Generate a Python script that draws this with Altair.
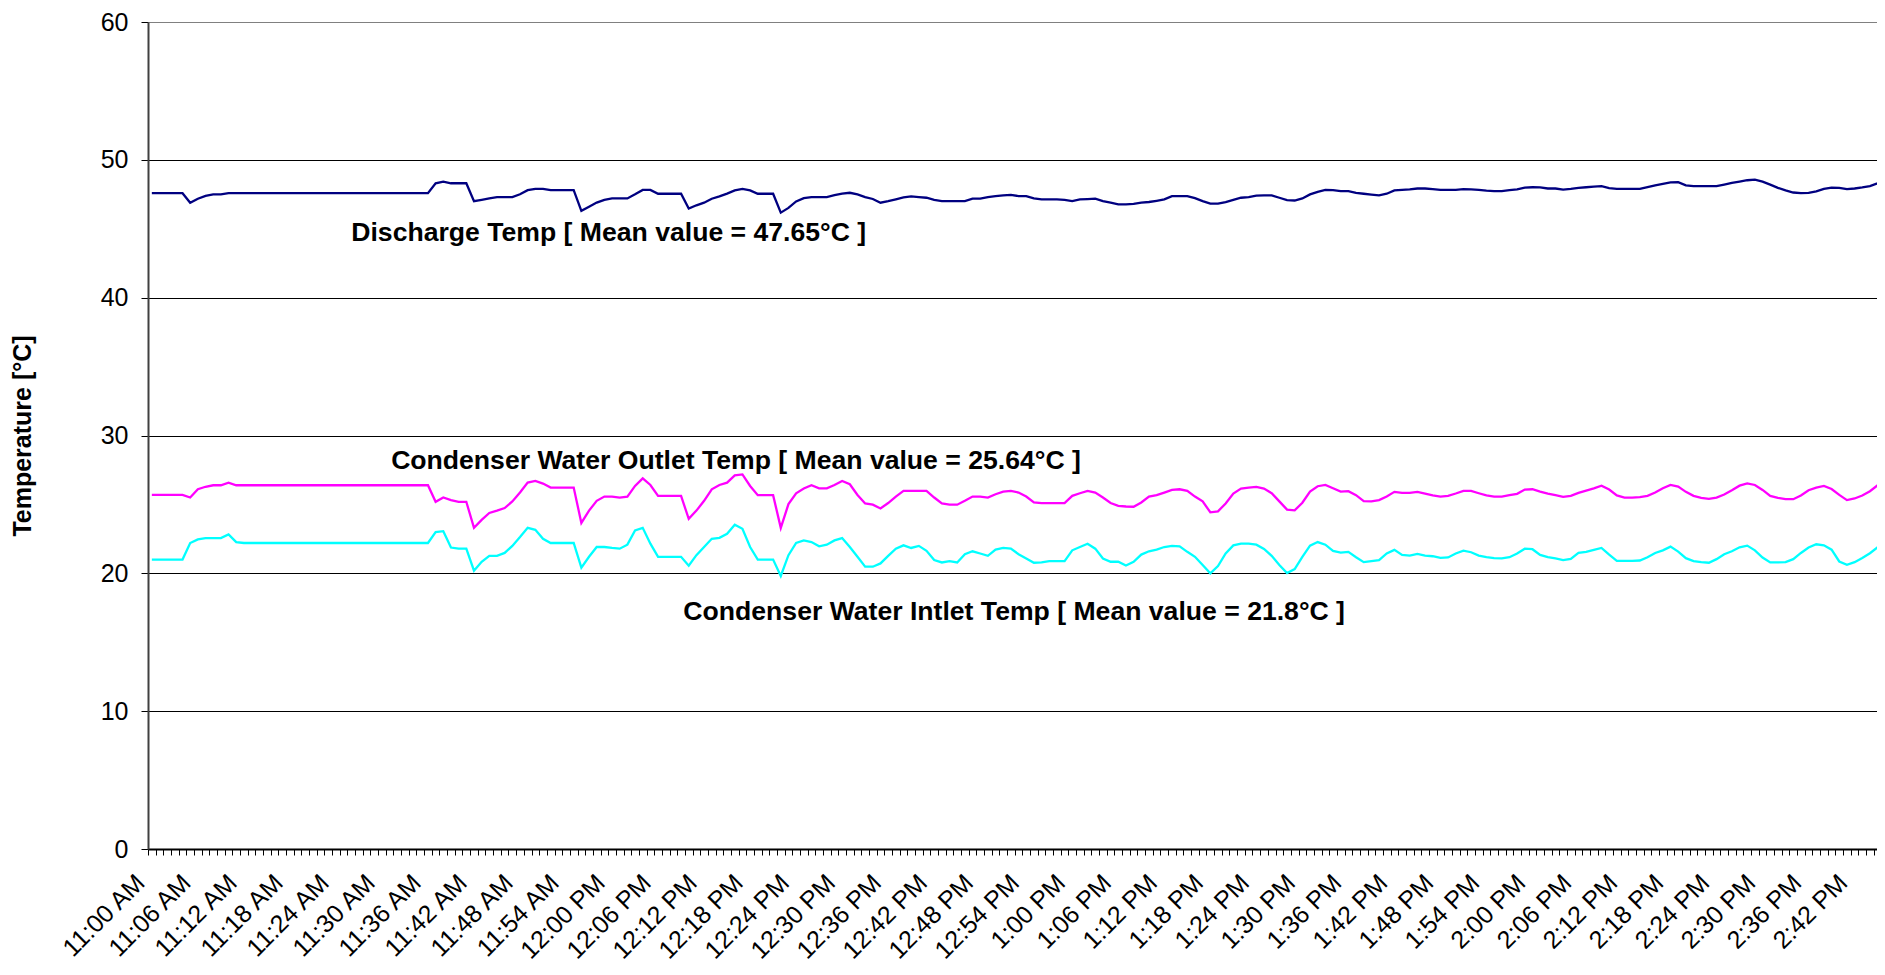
import altair as alt
import pandas as pd

# ---------------- data (one value per minute, starting 11:00 AM) ----------------
series_names = ["Discharge Temp", "Condenser Water Outlet Temp", "Condenser Water Intlet Temp"]
series_colors = ["#000080", "#FF00FF", "#00FFFF"]

discharge = [
    47.58, 47.58, 47.58, 47.58, 47.58, 46.89, 47.18, 47.39, 47.49, 47.49,
    47.58, 47.58, 47.58, 47.58, 47.58, 47.58, 47.58, 47.58, 47.58, 47.58,
    47.58, 47.58, 47.58, 47.58, 47.58, 47.58, 47.58, 47.58, 47.58, 47.58,
    47.58, 47.58, 47.58, 47.58, 47.58, 47.58, 47.58, 48.30, 48.42, 48.30,
    48.30, 48.30, 47.00, 47.10, 47.20, 47.30, 47.30, 47.30, 47.50, 47.80,
    47.90, 47.90, 47.80, 47.80, 47.80, 47.80, 46.30, 46.60, 46.90, 47.10,
    47.20, 47.20, 47.20, 47.50, 47.82, 47.82, 47.54, 47.54, 47.54, 47.54,
    46.46, 46.70, 46.89, 47.18, 47.35, 47.55, 47.78, 47.89, 47.78, 47.54,
    47.54, 47.54, 46.17, 46.51, 46.98, 47.22, 47.30, 47.30, 47.30, 47.44,
    47.55, 47.61, 47.49, 47.30, 47.16, 46.89, 47.00, 47.13, 47.27, 47.35,
    47.30, 47.25, 47.10, 47.01, 47.01, 47.01, 47.01, 47.18, 47.18, 47.30,
    47.37, 47.42, 47.46, 47.37, 47.37, 47.20, 47.13, 47.13, 47.13, 47.10,
    47.01, 47.13, 47.15, 47.18, 47.00, 46.89, 46.77, 46.77, 46.80, 46.90,
    46.94, 47.03, 47.13, 47.37, 47.37, 47.37, 47.22, 47.00, 46.82, 46.82,
    46.94, 47.10, 47.25, 47.30, 47.40, 47.42, 47.42, 47.25, 47.08, 47.05,
    47.20, 47.49, 47.68, 47.82, 47.80, 47.73, 47.73, 47.60, 47.54, 47.48,
    47.42, 47.54, 47.78, 47.82, 47.85, 47.92, 47.92, 47.88, 47.82, 47.82,
    47.82, 47.87, 47.85, 47.82, 47.76, 47.73, 47.73, 47.80, 47.85, 47.98,
    48.01, 48.00, 47.92, 47.92, 47.84, 47.89, 47.97, 48.01, 48.05, 48.09,
    47.95, 47.89, 47.89, 47.89, 47.89, 48.02, 48.15, 48.25, 48.36, 48.38,
    48.15, 48.09, 48.09, 48.09, 48.09, 48.20, 48.32, 48.42, 48.52, 48.57,
    48.42, 48.20, 47.97, 47.78, 47.63, 47.58, 47.61, 47.71, 47.89, 47.99,
    47.97, 47.87, 47.92, 48.00, 48.10, 48.30, 48.75,
]

outlet = [
    25.69, 25.69, 25.69, 25.69, 25.69, 25.50, 26.10, 26.28, 26.39, 26.39,
    26.58, 26.39, 26.39, 26.39, 26.39, 26.39, 26.39, 26.39, 26.39, 26.39,
    26.39, 26.39, 26.39, 26.39, 26.39, 26.39, 26.39, 26.39, 26.39, 26.39,
    26.39, 26.39, 26.39, 26.39, 26.39, 26.39, 26.39, 25.19, 25.50, 25.31,
    25.19, 25.19, 23.30, 23.88, 24.38, 24.55, 24.74, 25.22, 25.86, 26.58,
    26.70, 26.51, 26.22, 26.22, 26.22, 26.22, 23.66, 24.55, 25.26, 25.57,
    25.57, 25.50, 25.57, 26.34, 26.89, 26.41, 25.62, 25.62, 25.62, 25.62,
    23.95, 24.55, 25.26, 26.10, 26.41, 26.58, 27.11, 27.18, 26.34, 25.67,
    25.67, 25.67, 23.30, 25.02, 25.81, 26.15, 26.39, 26.17, 26.17, 26.41,
    26.70, 26.46, 25.69, 25.07, 24.98, 24.71, 25.10, 25.57, 25.98, 25.98,
    25.98, 25.98, 25.50, 25.07, 24.98, 24.98, 25.26, 25.57, 25.57, 25.50,
    25.74, 25.93, 25.98, 25.86, 25.57, 25.14, 25.10, 25.10, 25.10, 25.10,
    25.62, 25.81, 25.98, 25.86, 25.50, 25.10, 24.90, 24.85, 24.83, 25.14,
    25.57, 25.67, 25.86, 26.05, 26.10, 25.98, 25.57, 25.22, 24.43, 24.50,
    25.07, 25.79, 26.15, 26.22, 26.27, 26.15, 25.81, 25.22, 24.62, 24.57,
    25.12, 25.93, 26.32, 26.41, 26.17, 25.93, 25.96, 25.67, 25.24, 25.22,
    25.31, 25.57, 25.91, 25.84, 25.84, 25.91, 25.79, 25.65, 25.57, 25.62,
    25.79, 25.98, 25.98, 25.81, 25.65, 25.57, 25.57, 25.67, 25.77, 26.08,
    26.10, 25.93, 25.79, 25.67, 25.55, 25.62, 25.84, 26.00, 26.17, 26.36,
    26.08, 25.65, 25.50, 25.50, 25.53, 25.62, 25.86, 26.17, 26.41, 26.29,
    25.91, 25.62, 25.48, 25.41, 25.50, 25.72, 26.03, 26.36, 26.53, 26.41,
    26.05, 25.62, 25.48, 25.38, 25.38, 25.65, 26.03, 26.22, 26.34, 26.12,
    25.69, 25.31, 25.43, 25.65, 25.96, 26.39, 26.67,
]

inlet = [
    21.00, 21.00, 21.00, 21.00, 21.00, 22.20, 22.46, 22.56, 22.56, 22.56,
    22.82, 22.27, 22.20, 22.20, 22.20, 22.20, 22.20, 22.20, 22.20, 22.20,
    22.20, 22.20, 22.20, 22.20, 22.20, 22.20, 22.20, 22.20, 22.20, 22.20,
    22.20, 22.20, 22.20, 22.20, 22.20, 22.20, 22.20, 22.99, 23.06, 21.87,
    21.79, 21.79, 20.19, 20.84, 21.27, 21.27, 21.48, 21.99, 22.63, 23.30,
    23.16, 22.51, 22.20, 22.20, 22.20, 22.20, 20.41, 21.20, 21.91, 21.91,
    21.84, 21.79, 22.08, 23.11, 23.30, 22.15, 21.20, 21.20, 21.20, 21.20,
    20.55, 21.32, 21.91, 22.51, 22.58, 22.87, 23.52, 23.23, 21.91, 21.00,
    21.00, 21.00, 19.81, 21.32, 22.20, 22.39, 22.27, 21.96, 22.08, 22.39,
    22.56, 21.91, 21.20, 20.48, 20.48, 20.72, 21.27, 21.79, 22.03, 21.84,
    21.99, 21.63, 20.96, 20.79, 20.89, 20.79, 21.39, 21.60, 21.44, 21.27,
    21.72, 21.84, 21.79, 21.39, 21.08, 20.77, 20.79, 20.89, 20.89, 20.89,
    21.67, 21.91, 22.15, 21.79, 21.08, 20.84, 20.84, 20.57, 20.84, 21.36,
    21.60, 21.72, 21.91, 21.99, 21.96, 21.56, 21.20, 20.60, 20.00, 20.53,
    21.44, 22.03, 22.15, 22.15, 22.08, 21.77, 21.27, 20.60, 20.02, 20.31,
    21.20, 22.01, 22.27, 22.08, 21.63, 21.51, 21.56, 21.17, 20.81, 20.88,
    20.96, 21.44, 21.70, 21.34, 21.29, 21.41, 21.29, 21.24, 21.12, 21.15,
    21.44, 21.65, 21.53, 21.29, 21.17, 21.10, 21.08, 21.17, 21.44, 21.79,
    21.75, 21.34, 21.17, 21.08, 20.96, 21.05, 21.48, 21.56, 21.70, 21.84,
    21.36, 20.91, 20.91, 20.91, 20.93, 21.17, 21.48, 21.67, 21.94, 21.58,
    21.10, 20.89, 20.81, 20.77, 21.03, 21.39, 21.60, 21.89, 22.01, 21.67,
    21.15, 20.79, 20.79, 20.81, 21.03, 21.48, 21.87, 22.11, 22.03, 21.72,
    20.86, 20.62, 20.81, 21.12, 21.46, 21.89, 21.99,
]

tick_labels = [
    "11:00 AM", "11:06 AM", "11:12 AM", "11:18 AM", "11:24 AM", "11:30 AM",
    "11:36 AM", "11:42 AM", "11:48 AM", "11:54 AM", "12:00 PM", "12:06 PM",
    "12:12 PM", "12:18 PM", "12:24 PM", "12:30 PM", "12:36 PM", "12:42 PM",
    "12:48 PM", "12:54 PM", "1:00 PM", "1:06 PM", "1:12 PM", "1:18 PM",
    "1:24 PM", "1:30 PM", "1:36 PM", "1:42 PM", "1:48 PM", "1:54 PM",
    "2:00 PM", "2:06 PM", "2:12 PM", "2:18 PM", "2:24 PM", "2:30 PM",
    "2:36 PM", "2:42 PM",
]
label_step = 6          # minutes between x labels
y_ticks = [0, 10, 20, 30, 40, 50, 60]

ann_text = [
    "Discharge Temp [ Mean value = 47.65°C ]",
    "Condenser Water Outlet Temp [ Mean value = 25.64°C ]",
    "Condenser Water Intlet Temp [ Mean value = 21.8°C ]",
]
ann_minute = [26.0, 31.2, 69.3]
ann_value = [44.1, 27.6, 16.6]

# ---------------- tables ----------------
rows = []
for name, vals in zip(series_names, [discharge, outlet, inlet]):
    for i, v in enumerate(vals):
        rows.append({"series": name, "minute": i, "value": v})
df = pd.DataFrame(rows)
ann_df = pd.DataFrame({"label": ann_text, "minute": ann_minute, "value": ann_value})

n_minutes = len(discharge)
FONT = "Liberation Sans"
PLOT_H = 827

x_scale = alt.Scale(domain=[-0.5, 224.92], nice=False, zero=False)
y_scale = alt.Scale(domain=[0, 60], nice=False)

label_expr = "[" + ",".join("'%s'" % t for t in tick_labels) + "][round(datum.value/%d)]" % label_step

label_axis = alt.Axis(
    orient="bottom", values=[i * label_step for i in range(len(tick_labels))],
    labelExpr=label_expr, labelAngle=-45, labelAlign="right", labelBaseline="alphabetic",
    labelPadding=35, labelOffset=-6, labelFontSize=25, labelFont=FONT, labelColor="black",
    labelOverlap=False, labelFlush=False, labelBound=False, ticks=False,
    domain=True, domainColor="black", domainWidth=2, grid=False, title=None,
)
tick_axis = alt.Axis(
    orient="bottom", values=[m - 0.5 for m in range(n_minutes)], labels=False,
    ticks=True, tickSize=6, tickColor="black", tickWidth=1, domain=False,
    grid=False, title=None,
)
y_axis = alt.Axis(
    values=y_ticks, format="d", title="Temperature [°C]", titleFont=FONT,
    titleFontSize=25, titleFontWeight="bold", titleColor="black",
    titleX=-126, titleY=PLOT_H / 2, titleAlign="center", titleBaseline="middle", titleAngle=-90,
    labelFont=FONT, labelFontSize=25, labelColor="black", labelPadding=13,
    tickSize=7, tickColor="black", tickWidth=1, domainColor="#404040", domainWidth=2,
    gridColor={"condition": {"test": "datum.value === 60", "value": "#808080"}, "value": "black"},
    gridWidth=1,
)

lines = alt.Chart(df).mark_line(clip=True, strokeWidth=2.3).encode(
    x=alt.X("minute:Q", scale=x_scale, axis=label_axis),
    y=alt.Y("value:Q", scale=y_scale, axis=y_axis),
    color=alt.Color("series:N", scale=alt.Scale(domain=series_names, range=series_colors), legend=None),
    detail="series:N",
)

notes = alt.Chart(ann_df).mark_text(
    align="left", baseline="alphabetic", font=FONT, fontSize=26.6, fontWeight="bold", color="black"
).encode(
    x=alt.X("minute:Q", scale=x_scale, axis=tick_axis),
    y=alt.Y("value:Q", scale=y_scale, axis=y_axis),
    text="label:N",
)

chart = alt.layer(lines, notes).resolve_axis(x="independent").properties(
    width=1729, height=PLOT_H,
    padding={"left": 140, "top": 14, "right": 0, "bottom": 118},
    autosize=alt.AutoSizeParams(type="none"),
).configure_view(stroke=None).configure(background="white")

chart.save("out.html", embed_options={"renderer": "svg", "actions": False})
